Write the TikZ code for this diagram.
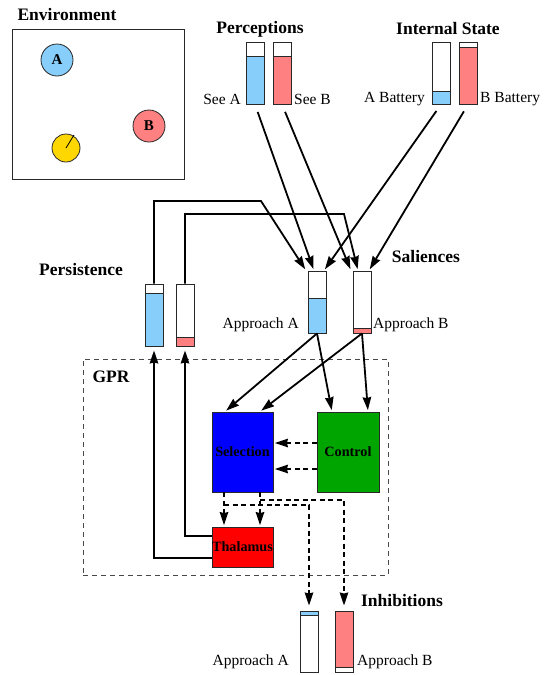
\documentclass[tikz,border=0pt]{standalone}
\usepackage{fontspec}
\setmainfont{Liberation Serif}
\usetikzlibrary{arrows.meta,calc,fit}
\definecolor{barblue}{RGB}{135,206,250}
\definecolor{barred}{RGB}{255,128,128}
\definecolor{envgold}{RGB}{255,215,0}
\definecolor{selblue}{RGB}{0,0,255}
\definecolor{ctrlgreen}{RGB}{0,165,0}
\definecolor{thalred}{RGB}{255,0,0}
\definecolor{edge}{RGB}{40,40,40}
% bar filled from level down to bottom
\newcommand{\fillbarup}[7]{%
  \fill[#7] (#2,#6) rectangle (#4,#5);
  \draw[edge, line width=0.9pt] (#2,#6) -- (#4,#6);
  \node[barbox, fit={(#2,#3) (#4,#5)}] (#1) {};
}
% bar filled from top down to level
\newcommand{\fillbardown}[7]{%
  \fill[#7] (#2,#3) rectangle (#4,#6);
  \draw[edge, line width=0.9pt] (#2,#6) -- (#4,#6);
  \node[barbox, fit={(#2,#3) (#4,#5)}] (#1) {};
}
\begin{document}
\begin{tikzpicture}[x=1pt,y=-1pt,
  heading/.style={font=\fontsize{17.5}{20}\selectfont\bfseries, inner sep=0},
  lbl/.style={font=\fontsize{15.5}{18}\selectfont, inner sep=0},
  barbox/.style={draw=edge, line width=0.9pt, inner sep=0},
  unitbox/.style={draw=edge, line width=0.8pt, inner sep=0, minimum width=61pt,
                  font=\fontsize{14.2}{16}\selectfont\bfseries},
  arr/.style={line width=1.8pt, -{Stealth[length=13pt,width=8.5pt,inset=1pt]}, shorten >=1.5pt},
  darr/.style={arr, dash pattern=on 5pt off 3.5pt},
  obj/.style={circle, draw=edge, line width=0.8pt, inner sep=0, minimum size=32pt,
              font=\fontsize{15}{17}\selectfont\bfseries}
]
\useasboundingbox (0,0) rectangle (548,675);

% ---------- Environment ----------
\node[heading] (tenv) at (67,15) {Environment};
\node[draw=edge, line width=0.8pt, inner sep=0, fit={(12,29) (184,179)}] (env) {};
\node[obj, fill=barblue] (objA) at (57,60) {A};
\node[obj, fill=barred] (objB) at (149,126) {B};
\node[obj, fill=envgold, minimum size=28pt] (robot) at (66,148) {};
\draw[line width=0.8pt] (robot.center) -- ++(8,-13);

% ---------- Perceptions / Internal state ----------
\node[heading] (tperc) at (260,29) {Perceptions};
\node[heading] (tint) at (448,29) {Internal State};
\fillbarup{seeA}{246}{42}{264}{104}{56}{barblue}
\fillbarup{seeB}{273}{42}{291}{104}{56}{barred}
\fillbarup{batA}{432}{42}{450}{104}{91}{barblue}
\fillbarup{batB}{459}{42}{477}{104}{47}{barred}
\node[lbl, anchor=east] (lseeA) at (241,99) {See A};
\node[lbl, anchor=west] (lseeB) at (294,99) {See B};
\node[lbl, anchor=east] (lbatA) at (425,99) {A Battery};
\node[lbl, anchor=west] (lbatB) at (480,99) {B Battery};

% ---------- Saliences ----------
\node[heading] (tsal) at (426,257) {Saliences};
\fillbarup{salA}{308}{271}{326}{333}{298}{barblue}
\fillbarup{salB}{353}{271}{371}{333}{328}{barred}
\node[lbl, anchor=east] (lsalA) at (299,325) {Approach A};
\node[lbl, anchor=west] (lsalB) at (373,325) {Approach B};

% ---------- Persistence ----------
\node[heading] (tper) at (81,270) {Persistence};
\fillbarup{perA}{145}{284}{163}{346}{293}{barblue}
\fillbarup{perB}{176}{284}{194}{346}{337}{barred}

% ---------- GPR ----------
\node[draw=edge!85, dash pattern=on 5pt off 4pt, line width=0.8pt, inner sep=0,
      fit={(83,359) (388,575)}] (gpr) {};
\node[heading] (tgpr) at (111,377) {GPR};
\node[unitbox, fill=selblue, minimum height=80pt] (sel) at (242.5,452) {Selection};
\node[unitbox, fill=ctrlgreen, minimum height=80pt, minimum width=62pt] (ctrl) at (348,452) {Control};
\node[unitbox, fill=thalred, minimum height=40pt] (thal) at (242.5,547) {Thalamus};

% ---------- Inhibitions ----------
\node[heading] (tinh) at (402,601) {Inhibitions};
\fillbardown{inhA}{300}{611}{318}{672}{615}{barblue}
\fillbardown{inhB}{335}{611}{353}{672}{667}{barred}
\node[lbl, anchor=east] (linhA) at (289,662) {Approach A};
\node[lbl, anchor=west] (linhB) at (357,662) {Approach B};

% ---------- connectors ----------
\coordinate (fb1) at (261,201);
\coordinate (fb2) at (344,214);
\draw[arr] (perA.north) |- (fb1) -- ([xshift=-11pt]salA.north);
\draw[arr] (perB.north) |- (fb2) -- ([xshift=-4pt]salB.north);
\draw[arr, shorten <=8pt] (seeA.south) -- ([xshift=-3pt]salA.north);
\draw[arr, shorten <=8pt] (batA.south) -- ([xshift=7pt]salA.north);
\draw[arr, shorten <=8pt] (seeB.south) -- ([xshift=-11pt]salB.north);
\draw[arr, shorten <=8pt] (batB.south) -- ([xshift=7pt]salB.north);

\draw[arr] (salA.south) -- ([xshift=-17.5pt]sel.north);
\draw[arr] (salA.south) -- ([xshift=-16pt]ctrl.north);
\draw[arr] (salB.south) -- ([xshift=17.5pt]sel.north);
\draw[arr] (salB.south) -- ([xshift=20pt]ctrl.north);

\draw[darr] ([yshift=9pt]ctrl.west) -- ([yshift=9pt]sel.east);
\draw[darr] ([yshift=-17pt]ctrl.west) -- ([yshift=-17pt]sel.east);

\draw[darr] ([xshift=-18.5pt]sel.south) -- ([xshift=-18.5pt]thal.north);
\draw[darr] ([xshift=17.5pt]sel.south) -- ([xshift=17.5pt]thal.north);
\coordinate (br1) at (224,505);
\coordinate (br2) at (260,500);
\draw[darr, shorten >=5pt] (br1) -| (inhA.north);
\draw[darr, shorten >=5pt] (br2) -| (inhB.north);

\draw[arr, shorten >=4pt] ([yshift=11pt]thal.west) -| (perB.south);
\draw[arr, shorten >=4pt] ([yshift=-11pt]thal.west) -| (perA.south);
\end{tikzpicture}
\end{document}
